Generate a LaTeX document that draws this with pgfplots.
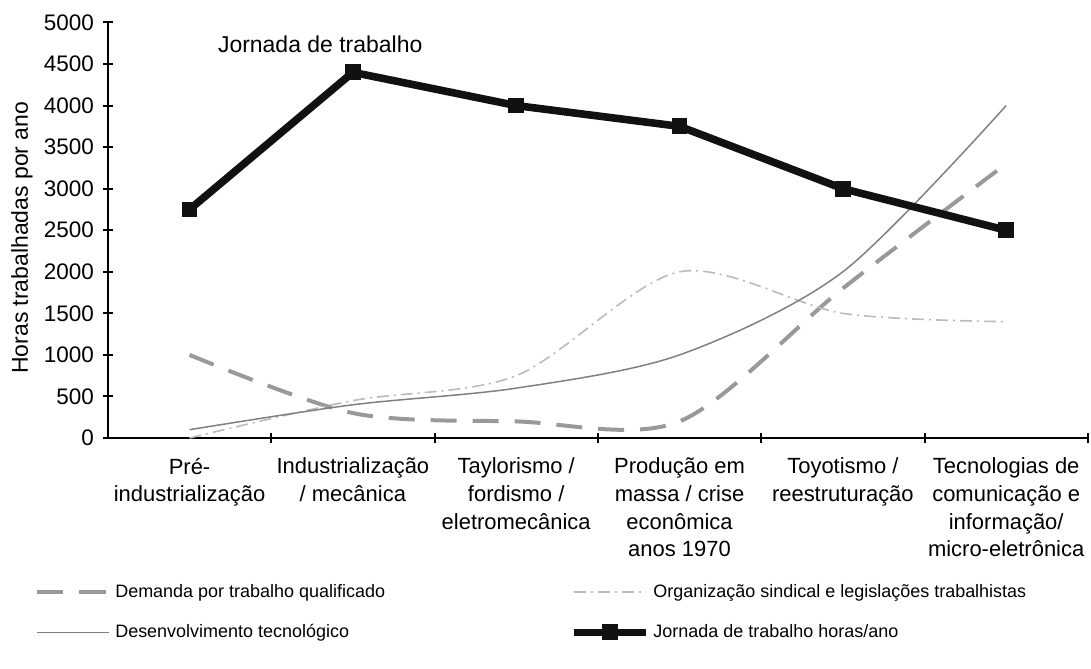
\documentclass[border=0pt]{standalone}
\usepackage{pgfplots}
\pgfplotsset{compat=1.18}
\usepackage{fontspec}
\setmainfont{Liberation Sans}
\definecolor{cDem}{HTML}{999999}
\definecolor{cOrg}{HTML}{BBBBBB}
\definecolor{cDes}{HTML}{808080}
\definecolor{cJor}{HTML}{111111}
\begin{document}
\begin{tikzpicture}
\begin{axis}[
  scale only axis,
  width=490.5pt, height=208pt,
  xmin=-0.5, xmax=5.5, ymin=0, ymax=5000,
  axis x line=bottom, axis y line=left,
  axis line style={-, line width=1pt, black},
  xtick={0,...,5},
  xticklabels={Pré-\\industrialização, Industrialização\\/ mecânica, Taylorismo /\\fordismo /\\eletromecânica, Produção em\\massa / crise\\econômica\\anos 1970, Toyotismo /\\reestruturação, Tecnologias de\\comunicação e\\informação/\\micro-eletrônica},
  minor xtick={0.5,1.5,2.5,3.5,4.5,5.5},
  major x tick style={draw=none},
  ytick={0,500,...,5000},
  tick align=center,
  major tick length=5pt, minor tick length=5pt,
  tick style={line width=1pt, color=black},
  yticklabel style={font=\fontsize{11.25}{13}\selectfont, xshift=-1pt},
  xticklabel style={align=center, font=\fontsize{11}{13.85}\selectfont, yshift=-4pt},
  /pgf/number format/assume math mode=true,
  /pgf/number format/1000 sep={},
  ylabel={Horas trabalhadas por ano},
  ylabel style={font=\fontsize{11.5}{13}\selectfont, at={(axis description cs:0,0.482)}, anchor=center, yshift=43pt},
  legend columns=2,
  legend cell align=left,
  legend style={draw=none, at={(axis description cs:0,0)}, anchor=north west, xshift=-39.5pt, yshift=-69pt,
    font=\fontsize{9}{11}\selectfont, row sep=8pt,
    /tikz/every even column/.append style={column sep=90.5pt}},
  legend image code/.code={\draw[mark repeat=2, mark phase=2, #1] plot coordinates {(0pt,0pt) (18pt,0pt) (36pt,0pt)};},
]
\addplot[smooth, color=cDem, line width=2pt, dash pattern=on 13pt off 8pt] coordinates {(0,1000)(1,300)(2,200)(3,200)(4,1800)(5,3300)};
\addlegendentry{Demanda por trabalho qualificado}
\addplot[smooth, color=cOrg, line width=0.8pt, dash pattern=on 6pt off 2.5pt on 1pt off 2.5pt] coordinates {(0,0)(1,450)(2,750)(3,2000)(4,1500)(5,1400)};
\addlegendentry{Organização sindical e legislações trabalhistas}
\addplot[smooth, color=cDes, line width=0.75pt] coordinates {(0,100)(1,400)(2,600)(3,1000)(4,2000)(5,4000)};
\addlegendentry{Desenvolvimento tecnológico}
\addplot[color=cJor, line width=3.8pt, mark=square*, mark size=3.7pt, mark options={solid, line width=0pt}] coordinates {(0,2750)(1,4400)(2,4000)(3,3750)(4,3000)(5,2500)};
\addlegendentry{Jornada de trabalho horas/ano}
\node[font=\fontsize{11.5}{13}\selectfont] at (axis cs:0.8,4740) {Jornada de trabalho};
\end{axis}
\path (current axis.south west) ++(-54pt,-115.25pt);
\path (current axis.north east) ++(1pt,11.25pt);
\end{tikzpicture}
\end{document}
